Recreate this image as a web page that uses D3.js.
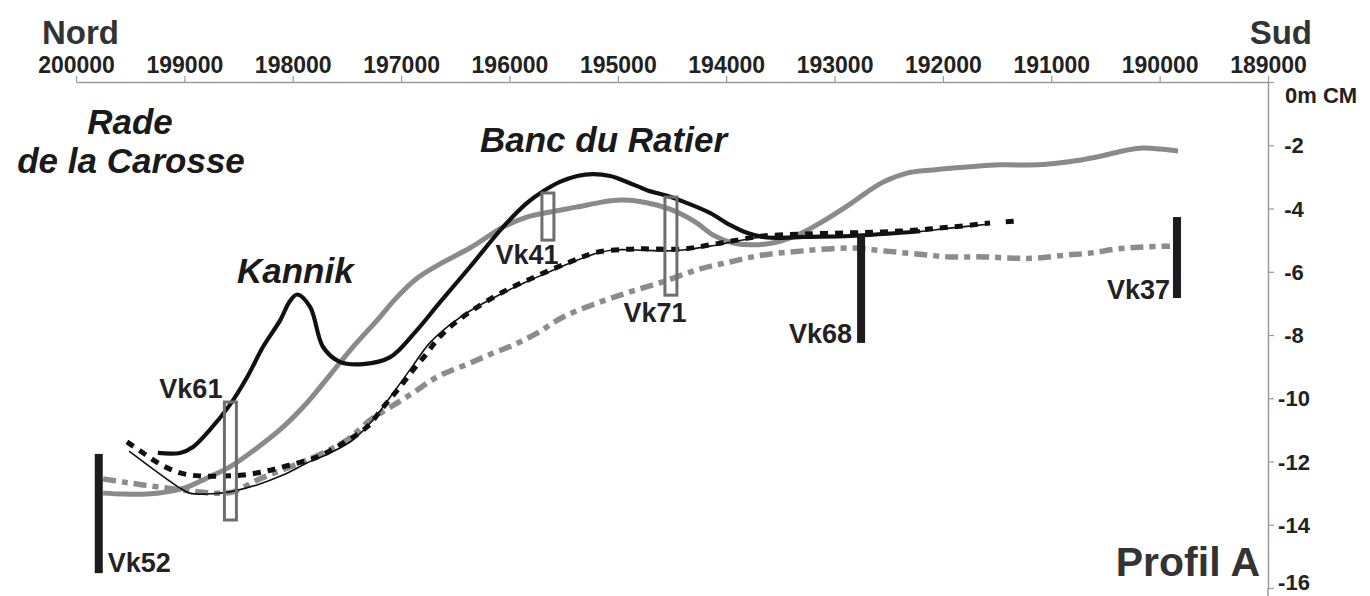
<!DOCTYPE html>
<html><head><meta charset="utf-8">
<script src="https://cdn.jsdelivr.net/npm/d3@7"></script>
<style>
html,body{margin:0;padding:0;background:#fff;}
svg{display:block;font-family:"Liberation Sans",Arial,Helvetica,sans-serif;}
</style></head><body>
<svg id="chart" width="1370" height="596"></svg>
<script>
// ---- axis ticks ----
const distTicks = [200000,199000,198000,197000,196000,195000,194000,193000,192000,191000,190000,189000];
const depthTicks = [0,-2,-4,-6,-8,-10,-12,-14,-16];

// ---- profiles: [distance (m), depth (m CM)] ----
const profileThickBlack = [
  [199245,-11.73],[199040,-11.73],[198920,-11.54],[198765,-11.00],[198580,-10.21],[198420,-9.33],
  [198275,-8.38],[198115,-7.53],[198030,-6.95],[197960,-6.72],[197840,-7.11],[197720,-8.38],
  [197565,-8.85],[197350,-8.92],[197100,-8.70],[196870,-7.91],[196640,-6.96],[196365,-5.85],
  [196060,-4.59],[195840,-3.83],[195700,-3.48],[195535,-3.16],[195375,-2.97],[195230,-2.91],
  [195070,-2.97],[194915,-3.16],[194730,-3.42],[194545,-3.60],[194360,-3.83],[194150,-4.14],
  [193965,-4.52],[193810,-4.77],[193660,-4.90],[193475,-4.93],[193290,-4.90],[192857,-4.87],
  [192210,-4.72]
];
const profileGraySolid = [
  [199750,-13.00],[199565,-13.03],[199345,-13.03],[199160,-12.96],[198975,-12.81],[198790,-12.52],
  [198580,-12.17],[198330,-11.57],[198090,-10.91],[197870,-10.15],[197655,-9.26],[197445,-8.38],
  [197220,-7.53],[197050,-6.85],[196850,-6.20],[196640,-5.75],[196365,-5.25],[196060,-4.59],
  [195840,-4.27],[195625,-4.11],[195375,-3.95],[195135,-3.79],[194980,-3.73],[194825,-3.76],
  [194640,-3.89],[194455,-4.11],[194270,-4.46],[194120,-4.84],[193935,-5.09],[193755,-5.15],
  [193530,-5.06],[193345,-4.84],[193135,-4.46],[192857,-3.86],[192700,-3.48],[192550,-3.16],
  [192330,-2.88],[192090,-2.78],[191780,-2.69],[191473,-2.62],[191130,-2.62],[190855,-2.53],
  [190580,-2.37],[190340,-2.18],[190155,-2.09],[189995,-2.12],[189830,-2.18]
];
const profileThinBlack = [
  [199510,-11.67],[199040,-12.84],[198950,-13.00],[198790,-13.03],[198580,-12.96],[198330,-12.74],
  [198090,-12.43],[197870,-12.05],[197655,-11.73],[197445,-11.32],[197260,-10.69],[197100,-9.96],
  [196920,-9.11],[196735,-8.25],[196550,-7.68],[196365,-7.24],[196060,-6.67],[195745,-6.17],
  [195440,-5.72],[195190,-5.41],[195045,-5.31],[194825,-5.31],[194585,-5.34],[194400,-5.31],
  [194150,-5.19],[193900,-5.03],[193660,-4.90],[193290,-4.90],[192857,-4.87],[192550,-4.81],
  [192240,-4.74],[191935,-4.62],[191565,-4.49]
];
const profileBlackDashed = [
  [199530,-11.38],[199380,-11.73],[199225,-12.08],[199040,-12.36],[198855,-12.46],[198645,-12.46],
  [198460,-12.43],[198240,-12.30],[198025,-12.11],[197775,-11.86],[197535,-11.42],[197315,-10.91],
  [197165,-10.28],[197010,-9.64],[196890,-9.11],[196760,-8.57],[196670,-8.16],[196550,-7.75],
  [196365,-7.27],[196060,-6.64],[195745,-6.13],[195440,-5.69],[195190,-5.38],[194825,-5.28],
  [194400,-5.28],[194150,-5.15],[193900,-5.00],[193660,-4.87],[193290,-4.81],[192857,-4.77],
  [192550,-4.74],[192240,-4.68],[191935,-4.59],[191565,-4.46],
  null,
  [191420,-4.42],[191330,-4.40]
];
const profileGrayDashDot = [
  [199750,-12.55],[199565,-12.65],[199380,-12.74],[199160,-12.84],[198950,-12.93],[198735,-13.00],
  [198550,-12.96],[198330,-12.59],[198145,-12.33],[197935,-12.05],[197720,-11.73],[197500,-11.32],
  [197285,-10.69],[197100,-10.28],[196890,-9.83],[196670,-9.33],[196365,-8.89],[196150,-8.57],
  [195965,-8.32],[195745,-7.94],[195505,-7.43],[195190,-6.99],[194890,-6.64],[194585,-6.32],
  [194270,-5.94],[193965,-5.69],[193660,-5.47],[193290,-5.34],[192857,-5.25],[192550,-5.34],
  [192240,-5.44],[191935,-5.53],[191630,-5.53],[191350,-5.57],[191130,-5.57],[190855,-5.47],
  [190640,-5.41],[190395,-5.28],[190155,-5.22],[189905,-5.19]
];

// ---- cores ----
const coreNames  = ["Vk52","Vk61","Vk41","Vk71","Vk68","Vk37"];
const coreDist   = [199790,198575,195645,194510,192755,189840];
const coreTop    = [-11.76,-10.12,-3.51,-3.64,-4.84,-4.27];
const coreBottom = [-15.53,-13.85,-5.00,-6.74,-8.25,-6.83];
const coreKind   = ["bar","box","box","box","bar","bar"];

// ---- place names ----
const placeNames = ["Rade","de la Carosse","Kannik","Banc du Ratier"];

// ================= drawing =================
const svg = d3.select("#chart");
const x = d3.scaleLinear().domain([200000,189000]).range([76,1268]);
const y = d3.scaleLinear().domain([0,-16]).range([82,588]);

// top axis
const gx = svg.append("g").attr("transform","translate(0,82)")
  .call(d3.axisTop(x).tickValues(distTicks).tickSize(6).tickSizeOuter(0).tickFormat(d => String(d)));
gx.select(".domain").attr("stroke","#9a9a9a").attr("stroke-width",1.5);
gx.selectAll(".tick line").attr("stroke","#9a9a9a").attr("stroke-width",1.2);
gx.selectAll(".tick text").attr("font-size",23).attr("font-weight","bold").attr("fill","#222")
  .attr("font-family","'Liberation Sans',Arial,sans-serif").attr("y",-9);

// right axis
const gy = svg.append("g").attr("transform","translate(1268,0)")
  .call(d3.axisRight(y).tickValues(depthTicks).tickSize(6).tickSizeOuter(0)
    .tickFormat(d => d === 0 ? "0m CM" : String(d)));
gy.select(".domain").attr("stroke","#9a9a9a").attr("stroke-width",1.5);
svg.append("line").attr("x1",1268).attr("x2",1268).attr("y1",y(-16)).attr("y2",596)
  .attr("stroke","#9a9a9a").attr("stroke-width",1.5);
gy.selectAll(".tick line").attr("stroke","#9a9a9a").attr("stroke-width",1.2);
gy.selectAll(".tick text").attr("font-size",22).attr("font-weight","bold").attr("fill","#222")
  .attr("font-family","'Liberation Sans',Arial,sans-serif")
  .attr("text-anchor", d => d === 0 ? "start" : "middle")
  .attr("x", d => d === 0 ? 17 : 26)
  .attr("dy", d => d === 0 ? "0.95em" : (d === -16 ? "0.05em" : "0.35em"));

// profiles
const line = d3.line().defined(d => d !== null)
  .x(d => x(d[0])).y(d => y(d[1])).curve(d3.curveCatmullRom.alpha(0.5));

function drawProfile(data, stroke, width, dash){
  svg.append("path").datum(data).attr("d", line)
    .attr("fill","none").attr("stroke",stroke).attr("stroke-width",width)
    .attr("stroke-dasharray",dash).attr("stroke-linejoin","round");
}
drawProfile(profileGrayDashDot, "#8c8c8c", 5.5, "13,6,6,6");
drawProfile(profileGraySolid, "#8a8a8a", 5, null);
drawProfile(profileBlackDashed, "#111", 5, "8,7");
drawProfile(profileThinBlack, "#111", 1.6, null);
drawProfile(profileThickBlack, "#111", 4.2, null);

// cores
const cores = coreNames.map((n,i)=>({name:n, dist:coreDist[i], top:coreTop[i], bottom:coreBottom[i], kind:coreKind[i]}));
cores.forEach(c => {
  if (c.kind === "bar") {
    svg.append("rect").attr("x", x(c.dist)-4).attr("width",8)
      .attr("y", y(c.top)).attr("height", y(c.bottom)-y(c.top)).attr("fill","#1c1c1c");
  } else {
    svg.append("rect").attr("x", x(c.dist)-6).attr("width",12)
      .attr("y", y(c.top)).attr("height", y(c.bottom)-y(c.top))
      .attr("fill","none").attr("stroke","#6e6e6e").attr("stroke-width",3);
  }
});
const coreLabelStyle = {
  Vk52:{anchor:"start", dx:9, ref:"bottom", dy:-1},
  Vk61:{anchor:"end", dx:-8, ref:"top", dy:-4},
  Vk41:{anchor:"middle", dx:-21, ref:"bottom", dy:24},
  Vk71:{anchor:"middle", dx:-16, ref:"bottom", dy:27},
  Vk68:{anchor:"end", dx:-9, ref:"bottom", dy:0},
  Vk37:{anchor:"end", dx:-7, ref:"bottom", dy:1}
};
cores.forEach(c => {
  const s = coreLabelStyle[c.name];
  svg.append("text").text(c.name)
    .attr("x", x(c.dist)+s.dx).attr("y", y(s.ref==="top"?c.top:c.bottom)+s.dy)
    .attr("text-anchor", s.anchor).attr("font-size",27).attr("font-weight","bold").attr("fill","#222");
});

// place names (bold italic)
const placeLayout = [
  {x:130, y:134, anchor:"middle"},
  {x:131, y:173, anchor:"middle"},
  {x:237, y:283, anchor:"start"},
  {x:480, y:152, anchor:"start"}
];
placeNames.forEach((t,i) => {
  const p = placeLayout[i];
  svg.append("text").text(t).attr("x",p.x).attr("y",p.y).attr("text-anchor",p.anchor)
    .attr("font-size",35).attr("font-weight","bold").attr("font-style","italic").attr("fill","#1a1a1a");
});

// headings
svg.append("text").text("Nord").attr("x",42).attr("y",44).attr("font-size",33).attr("font-weight","bold").attr("fill","#333");
svg.append("text").text("Sud").attr("x",1312).attr("y",44).attr("text-anchor","end").attr("font-size",33).attr("font-weight","bold").attr("fill","#333");
svg.append("text").text("Profil A").attr("x",1260).attr("y",576).attr("text-anchor","end").attr("font-size",41).attr("font-weight","bold").attr("fill","#333");
</script>
</body></html>
